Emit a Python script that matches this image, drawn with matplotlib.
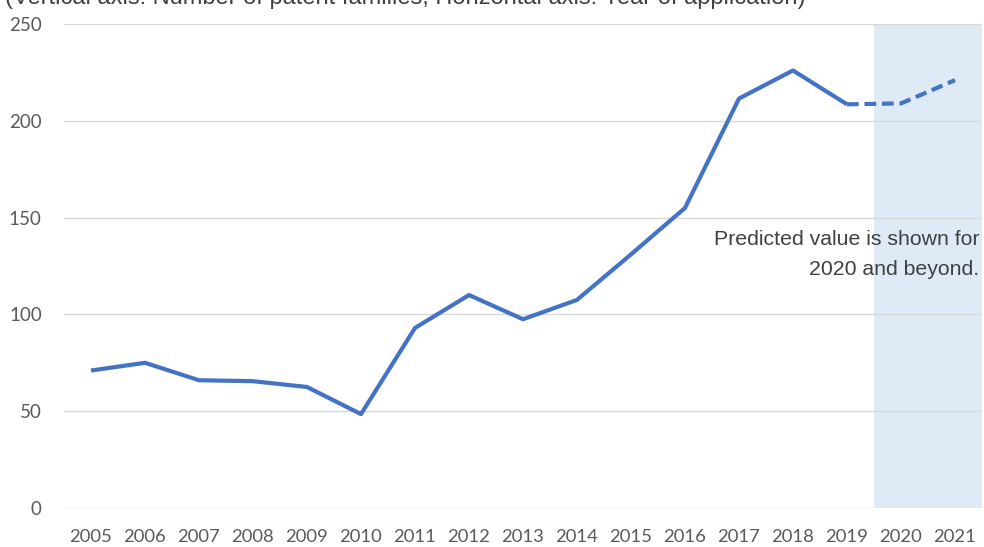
import matplotlib
matplotlib.use("Agg")
import matplotlib.pyplot as plt

# data
years = list(range(2005, 2022))
actual_years = years[:15]          # 2005-2019
actual_vals = [71, 75, 66, 65.5, 62.5, 48.5, 93, 110, 97.5, 107.5, 131, 155, 211.5, 226, 208.5]
pred_years = [2019, 2020, 2021]
pred_vals = [208.5, 209, 221]
y_ticks = [0, 50, 100, 150, 200, 250]

line_color = '#4472C4'
text_color = '#595959'

fig = plt.figure(figsize=(9.84, 5.47), dpi=100)
ax = fig.add_axes([64 / 984, 1 - 508 / 547, 918 / 984, 484 / 547])

# shaded forecast band
ax.axvspan(2019.5, 2021.5, color='#DEEBF7', zorder=0, lw=0)

for y in y_ticks:
    ax.axhline(y, color='#D9D9D9', lw=1, zorder=1)

ax.plot(actual_years, actual_vals, color=line_color, lw=3, zorder=3,
        solid_capstyle='butt', solid_joinstyle='round')
ax.plot(pred_years, pred_vals, color=line_color, lw=3, zorder=3,
        linestyle=(0, (2.8, 1.4)), dash_capstyle='butt')

ax.set_xlim(2004.5, 2021.5)
ax.set_ylim(0, 250)
ax.set_xticks(years)
ax.set_xticklabels([str(y) for y in years], fontfamily='Lato', fontsize=13.3, color=text_color)
ax.set_yticks(y_ticks)
ax.set_yticklabels([str(v) for v in y_ticks], fontfamily='Lato', fontsize=13.5, color=text_color)
ax.tick_params(axis='x', length=0, pad=15)
ax.tick_params(axis='y', length=0, pad=16)
for s in ax.spines.values():
    s.set_visible(False)

ax.text(2021.45, 131, 'Predicted value is shown for\n2020 and beyond.', ha='right', va='center',
        fontfamily='Liberation Sans', fontsize=15.3, color='#404040', linespacing=1.75, zorder=4)

# axis caption, cut off by the top edge as in the source image
fig.text(5 / 984, 1 - 4 / 547, '(Vertical axis: Number of patent families, Horizontal axis: Year of application)',
         ha='left', va='baseline', fontfamily='Liberation Sans', fontsize=17, color='#404040')

fig.savefig('out.png', dpi=100)
